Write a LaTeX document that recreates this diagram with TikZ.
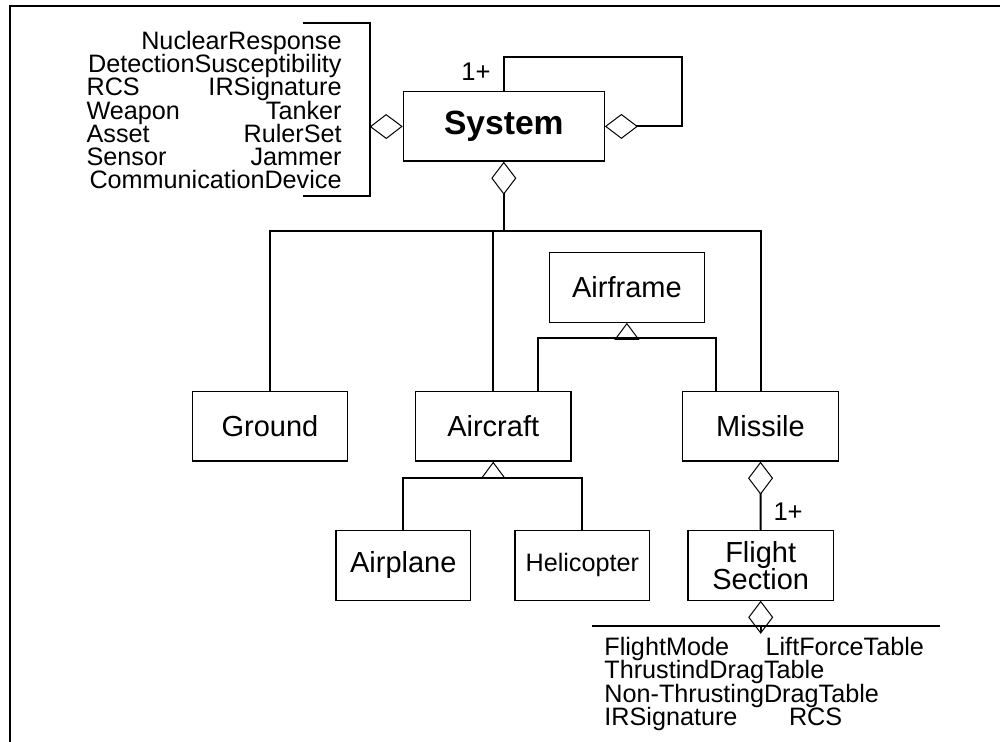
\documentclass[tikz,border=0pt]{standalone}
\usepackage{fontspec}
\setmainfont{Liberation Sans}
\usetikzlibrary{arrows.meta}
\newcommand\attrfont{\fontsize{12.6}{11.65}\selectfont\lineskiplimit-20pt\relax}
\begin{document}
\begin{tikzpicture}[x=0.5pt,y=-0.5pt,
    cls/.style={draw,line width=0.6pt,inner sep=0pt,minimum width=77.8pt,
      minimum height=34.7pt,align=center,font=\fontsize{14.5}{13.8}\selectfont},
    attr/.style={inner sep=0pt,font=\attrfont},
    mult/.style={inner sep=0pt,font=\fontsize{12.8}{14}\selectfont},
    link/.style={line width=1pt},
    agg/.style={link,{Diamond[open,length=16.5pt,width=12.5pt,line width=0.5pt]}-},
    gen/.style={link,{Triangle[open,length=8.5pt,width=12.5pt,line width=0.5pt]}-}]
      \useasboundingbox (0,0) rectangle (1000,742);
      \draw[line width=1pt] (10,742) |- (1000,6);
      \draw
        (503.8,126.4) node[cls,minimum width=100.5pt,font=\fontsize{16.8}{18}\selectfont\bfseries] (sys){System}
        (626.9,287.5) node[cls] (airframe){Airframe}
        (269.9,426.4) node[cls] (ground){Ground}
        (493.2,426.4) node[cls] (aircraft){Aircraft}
        (760.5,426.4) node[cls] (missile){Missile}
        (403.3,565.4) node[cls,minimum width=67.3pt] (airplane){Airplane}
        (582.3,565.4) node[cls,minimum width=67.3pt,font=\fontsize{12.6}{14}\selectfont] (heli){Helicopter}
        (760.7,565.5) node[cls,minimum width=72.7pt] (flight){Flight\\Section};
      \node[attr,anchor=north east,text width=127.5pt,align=right] (sysattr) at (342,30.5)
        {NuclearResponse\\DetectionSusceptibility\\RCS\hfill IRSignature\\Weapon\hfill Tanker\\
         Asset\hfill RulerSet\\Sensor\hfill Jammer\\CommunicationDevice};
      \node[attr,anchor=north west,align=left] (flightattr) at (604,637)
        {FlightMode\hspace{18.3pt}LiftForceTable\\ThrustindDragTable\\
         Non-ThrustingDragTable\\IRSignature\hspace{25.8pt}RCS};
      \node[mult,anchor=base east] (sysmult) at ([xshift=-6.4pt,yshift=5.5pt]sys.north){1+};
      \node[mult,anchor=base west] (flightmult) at ([xshift=6.2pt,yshift=5pt]flight.north){1+};
      \coordinate (brk) at (370,126.7);
      \coordinate (brktop) at (302.7,22.7);
      \coordinate (brkbot) at (302.7,196);
      \coordinate (loop) at (682.4,56.7);
      \coordinate (bus) at (503.8,231);
      \coordinate (afbar) at (626.9,338.3);
      \coordinate (acbar) at (493.2,478.3);
      \coordinate (fsbar) at (760.7,625.7);
      \coordinate (fsleft) at (592.4,625.7);
      \coordinate (fsright) at (939.7,625.7);
      \begin{scope}[link]
        \draw (brktop) -| (brk) |- (brkbot);
        \draw[agg] (sys.west) to (brk);
        \draw[agg] (sys.east) -| (loop) -| (sys.north);
        \draw[agg] (sys.south) to (bus);
        \draw (bus) -| (ground.north);
        \draw (bus) -| (aircraft.north);
        \draw (bus) -| (missile.north);
        \draw[gen] (airframe.south) to (afbar);
        \draw (afbar) -| ([xshift=22.25pt]aircraft.north);
        \draw (afbar) -| ([xshift=-22.25pt]missile.north);
        \draw[gen] (aircraft.south) to (acbar);
        \draw (acbar) -| (airplane.north);
        \draw (acbar) -| (heli.north);
        \draw[agg] (missile.south) to (flight.north);
        \draw[agg] (flight.south) to (fsbar);
        \draw (fsleft) to (fsright);
      \end{scope}
    \end{tikzpicture}
\end{document}
